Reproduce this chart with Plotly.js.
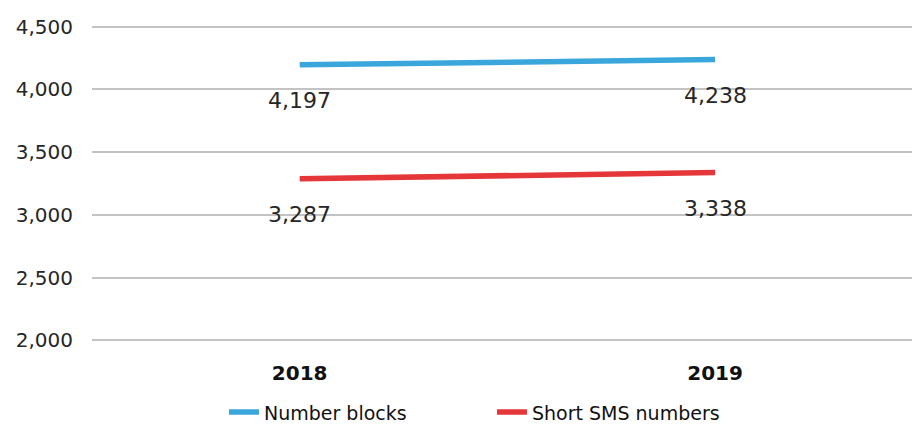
<!DOCTYPE html>
<html>
<head>
<meta charset="utf-8">
<script src="https://cdn.plot.ly/plotly-3.0.1.min.js"></script>
<style>html,body{margin:0;padding:0;background:#fff;}#chart{width:912px;height:425px;}</style>
</head>
<body>
<div id="chart"></div>
<script>
const years = ['2018', '2019'];
const numberBlocks = [4197, 4238];
const shortSms = [3287, 3338];
const seriesNames = ['Number blocks', 'Short SMS numbers'];
const yTicks = [2000, 2500, 3000, 3500, 4000, 4500];

const colors = ['#3AA6DC', '#E5363A'];
const seriesVals = [numberBlocks, shortSms];

function fmt(v) {
  return String(v).replace(/\B(?=(\d{3})+(?!\d))/g, ',');
}

const traces = seriesVals.map((vals, i) => ({
  x: years, y: vals, name: seriesNames[i], type: 'scatter', mode: 'lines',
  line: {color: colors[i], width: 5.5}, hoverinfo: 'skip'
}));

const annotations = [];
seriesVals.forEach(vals => {
  vals.forEach((v, j) => {
    annotations.push({
      x: j, y: v, xref: 'x', yref: 'y', showarrow: false,
      text: fmt(v), yshift: -36,
      font: {family: 'DejaVu Sans', size: 22, color: '#262626'}
    });
  });
});

Plotly.newPlot('chart', traces, {
  width: 912, height: 425,
  margin: {l: 92, r: 0, t: 23, b: 81},
  paper_bgcolor: '#fff', plot_bgcolor: '#fff',
  xaxis: {
    type: 'category', range: [-0.5, 1.474], showgrid: false, zeroline: false,
    showline: false, ticks: '', ticklabelstandoff: 15,
    tickfont: {family: 'DejaVu Sans', size: 20, color: '#111', weight: 'bold'}
  },
  yaxis: {
    range: [1970, 4530], tickvals: yTicks, tickformat: ',d',
    showgrid: true, gridcolor: '#C3C3C3', gridwidth: 2, zeroline: false,
    showline: false, ticks: '', ticklabelstandoff: 18,
    tickfont: {family: 'DejaVu Sans', size: 20, color: '#262626'}
  },
  showlegend: true,
  legend: {
    orientation: 'h', xref: 'container', yref: 'container',
    x: 0.2456, xanchor: 'left', y: 0.03, yanchor: 'middle',
    font: {family: 'DejaVu Sans', size: 19, color: '#111'},
    entrywidth: 223, entrywidthmode: 'pixels'
  },
  annotations: annotations
}, {displayModeBar: false, staticPlot: true});
</script>
</body>
</html>
